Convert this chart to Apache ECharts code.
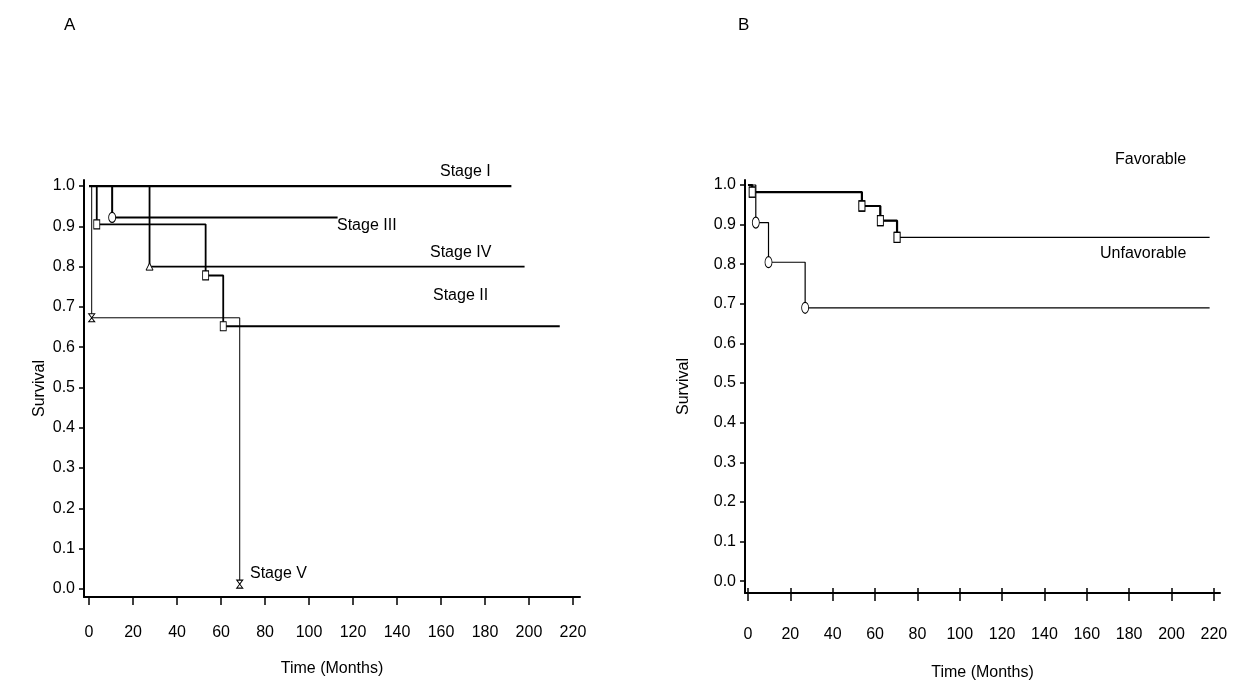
<!DOCTYPE html>
<html lang="en">
<head>
<meta charset="UTF-8" />
<title>Survival curves</title>
<script src="https://cdn.jsdelivr.net/npm/echarts@6/dist/echarts.min.js"></script>
<style>
  * { margin: 0; padding: 0; }
  body { background: #fff; }
  #chart { width: 1239px; height: 686px; }
</style>
</head>
<body>
<div id="chart"></div>
<script>
  // tick labels
  const xTicks = [0, 20, 40, 60, 80, 100, 120, 140, 160, 180, 200, 220];
  const yTicks = [0, 0.1, 0.2, 0.3, 0.4, 0.5, 0.6, 0.7, 0.8, 0.9, 1.0];

  // panel A: stage curves (time in months, survival)
  const stage1T = [0, 192];
  const stage1S = [1.0, 1.0];
  const stage3T = [0, 10.5, 113];
  const stage3S = [1.0, 0.922, 0.922];
  const stage4T = [0, 27.5, 198];
  const stage4S = [1.0, 0.8, 0.8];
  const stage2T = [0, 3.5, 53, 61, 214];
  const stage2S = [1.0, 0.905, 0.778, 0.652, 0.652];
  const stage5T = [0, 1.2, 68.5];
  const stage5S = [1.0, 0.673, 0.012];

  // panel B: favorable / unfavorable
  const favT = [0, 2, 53.8, 62.5, 70.4, 218];
  const favS = [1.0, 0.982, 0.947, 0.91, 0.868, 0.868];
  const unfT = [0, 3.7, 9.7, 27, 218];
  const unfS = [1.0, 0.905, 0.805, 0.69, 0.69];

  const FONT = "Liberation Sans, Arial, sans-serif";
  const FS = 16;
  const hourglass = "path://M0,0L10,0L5,5L10,10L0,10L5,5Z";

  // step line; markers on the drop points (optionally the last one too)
  function km(T, S, grid, width, marker, size, markLast) {
    return {
      type: "line",
      xAxisIndex: grid === 0 ? 0 : 1,
      yAxisIndex: grid,
      step: "end",
      animation: false,
      silent: true,
      lineStyle: { color: "#000", width: width },
      itemStyle: { color: "#fff", borderColor: "#000", borderWidth: 1 },
      symbolSize: size,
      data: T.map((t, i) => {
        const isMark = marker && i > 0 && (i < T.length - 1 || markLast);
        return { value: [t, S[i]], symbol: isMark ? marker : "none" };
      }),
    };
  }

  function xAxis(grid, min, max, nameGap, labelMargin) {
    return {
      type: "value",
      gridIndex: grid,
      position: "bottom",
      min: min,
      max: max,
      name: "Time (Months)",
      nameLocation: "middle",
      nameGap: nameGap,
      nameTextStyle: { color: "#000", fontSize: FS, fontFamily: FONT },
      axisLine: { onZero: false, lineStyle: { color: "#000", width: 2 } },
      axisTick: { customValues: xTicks, length: 8, lineStyle: { color: "#000", width: 1.5 } },
      axisLabel: { customValues: xTicks, margin: labelMargin, color: "#000", fontSize: FS, fontFamily: FONT },
      splitLine: { show: false },
    };
  }

  function yAxis(grid, min, max, nameGap) {
    return {
      type: "value",
      gridIndex: grid,
      position: "left",
      min: min,
      max: max,
      name: "Survival",
      nameLocation: "middle",
      nameGap: nameGap,
      nameRotate: 90,
      nameTextStyle: { color: "#000", fontSize: FS, fontFamily: FONT },
      axisLine: { onZero: false, lineStyle: { color: "#000", width: 2 } },
      axisTick: { customValues: yTicks, length: 5, lineStyle: { color: "#000", width: 1.5 } },
      axisLabel: {
        customValues: yTicks,
        margin: 9,
        color: "#000",
        fontSize: FS,
        fontFamily: FONT,
        formatter: (v) => v.toFixed(1),
      },
      splitLine: { show: false },
    };
  }

  function txt(s, x, y, size) {
    return {
      type: "text",
      x: x,
      y: y,
      style: { text: s, font: (size || FS) + "px " + FONT, fill: "#000", verticalAlign: "middle" },
    };
  }

  const chart = echarts.init(document.getElementById("chart"));
  chart.setOption({
    backgroundColor: "#fff",
    grid: [
      { left: 84, top: 180, width: 496, height: 417 },
      { left: 745, top: 180, width: 475, height: 414 },
    ],
    xAxis: [
      xAxis(0, -2.3, 223.2, 64, 28),
      xAxis(1, -1.4, 222.9, 72, 34),
      // inner half of the crossing ticks on panel B
      {
        type: "value",
        gridIndex: 1,
        position: "bottom",
        min: -1.4,
        max: 222.9,
        axisLine: { show: false, onZero: false },
        axisTick: { customValues: xTicks, inside: true, length: 5, lineStyle: { color: "#000", width: 1.5 } },
        axisLabel: { show: false },
        splitLine: { show: false },
      },
    ],
    yAxis: [yAxis(0, -0.02, 1.015, 36), yAxis(1, -0.03, 1.0126, 53)],
    series: [
      km(stage1T, stage1S, 0, 2.2, null, 0),
      km(stage3T, stage3S, 0, 2, "circle", [7, 10]),
      km(stage4T, stage4S, 0, 1.8, "triangle", [7, 7]),
      km(stage2T, stage2S, 0, 1.8, "rect", [6, 9]),
      km(stage5T, stage5S, 0, 1, hourglass, [6, 8], true),
      km(favT, favS, 1, 1.2, "rect", [6, 10]),
      km(favT.slice(0, 5), favS.slice(0, 5), 1, 2.2, "rect", [6, 10], true),
      km(unfT, unfS, 1, 1.2, "circle", [7, 11]),
    ],
    graphic: [
      txt("A", 64, 25, 17),
      txt("B", 738, 25, 17),
      txt("Stage I", 440, 172),
      txt("Stage III", 337, 226),
      txt("Stage IV", 430, 253),
      txt("Stage II", 433, 296),
      txt("Stage V", 250, 574),
      txt("Favorable", 1115, 160),
      txt("Unfavorable", 1100, 254),
    ],
  });
</script>
</body>
</html>
